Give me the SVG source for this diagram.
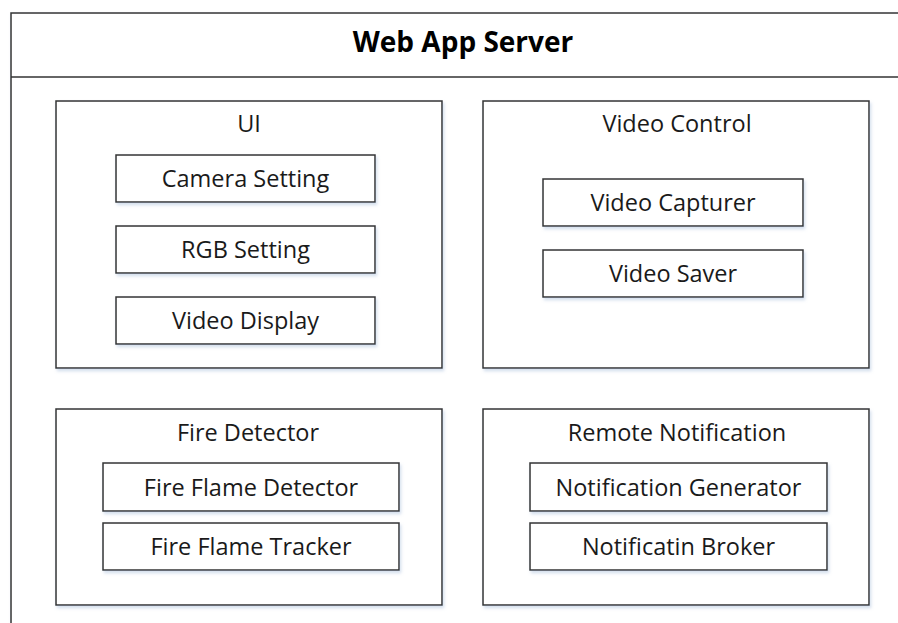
<svg xmlns="http://www.w3.org/2000/svg" width="898" height="623" viewBox="0 0 898 623">
<defs>
<filter id="sh" x="-5%" y="-5%" width="112%" height="120%">
<feDropShadow dx="1.5" dy="2.5" stdDeviation="1.5" flood-color="#9fb8d8" flood-opacity="0.45"/>
</filter>
<style>
.box{fill:#ffffff;stroke:#333333;stroke-width:1.5;filter:url(#sh)}
.t{font-family:"Open Sans","Liberation Sans",sans-serif;font-size:23.5px;fill:#1a1a1a;text-anchor:middle}
.title{font-family:"Open Sans","Liberation Sans",sans-serif;font-size:28px;font-weight:700;fill:#000000;text-anchor:middle}
</style>
</defs>
<rect width="898" height="623" fill="#ffffff"/>
<g id="web-app-server">
<rect class="box" x="11" y="13" width="904" height="640"/>
<line x1="11" y1="77" x2="915" y2="77" stroke="#333333" stroke-width="1.5"/>
<text class="title" x="463" y="52">Web App Server</text>
</g>
<g id="ui">
<rect class="box" x="56" y="101" width="386" height="267"/>
<text class="t" x="249" y="132">UI</text>
</g>
<g id="camera-setting">
<rect class="box" x="116" y="155" width="259" height="47"/>
<text class="t" x="245.5" y="187">Camera Setting</text>
</g>
<g id="rgb-setting">
<rect class="box" x="116" y="226" width="259" height="47"/>
<text class="t" x="245.5" y="258">RGB Setting</text>
</g>
<g id="video-display">
<rect class="box" x="116" y="297" width="259" height="47"/>
<text class="t" x="245.5" y="329">Video Display</text>
</g>
<g id="video-control">
<rect class="box" x="483" y="101" width="386" height="267"/>
<text class="t" x="677" y="132">Video Control</text>
</g>
<g id="video-capturer">
<rect class="box" x="543" y="179" width="260" height="47"/>
<text class="t" x="673" y="211">Video Capturer</text>
</g>
<g id="video-saver">
<rect class="box" x="543" y="250" width="260" height="47"/>
<text class="t" x="673" y="282">Video Saver</text>
</g>
<g id="fire-detector">
<rect class="box" x="56" y="409" width="386" height="196"/>
<text class="t" x="248" y="441">Fire Detector</text>
</g>
<g id="fire-flame-detector">
<rect class="box" x="103" y="463" width="296" height="48"/>
<text class="t" x="251" y="496">Fire Flame Detector</text>
</g>
<g id="fire-flame-tracker">
<rect class="box" x="103" y="523" width="296" height="47"/>
<text class="t" x="251" y="555">Fire Flame Tracker</text>
</g>
<g id="remote-notification">
<rect class="box" x="483" y="409" width="386" height="196"/>
<text class="t" x="677" y="441">Remote Notification</text>
</g>
<g id="notification-generator">
<rect class="box" x="530" y="463" width="297" height="48"/>
<text class="t" x="678.5" y="496">Notification Generator</text>
</g>
<g id="notificatin-broker">
<rect class="box" x="530" y="523" width="297" height="47"/>
<text class="t" x="678.5" y="555">Notificatin Broker</text>
</g>
<g id="connectors"></g>
</svg>
